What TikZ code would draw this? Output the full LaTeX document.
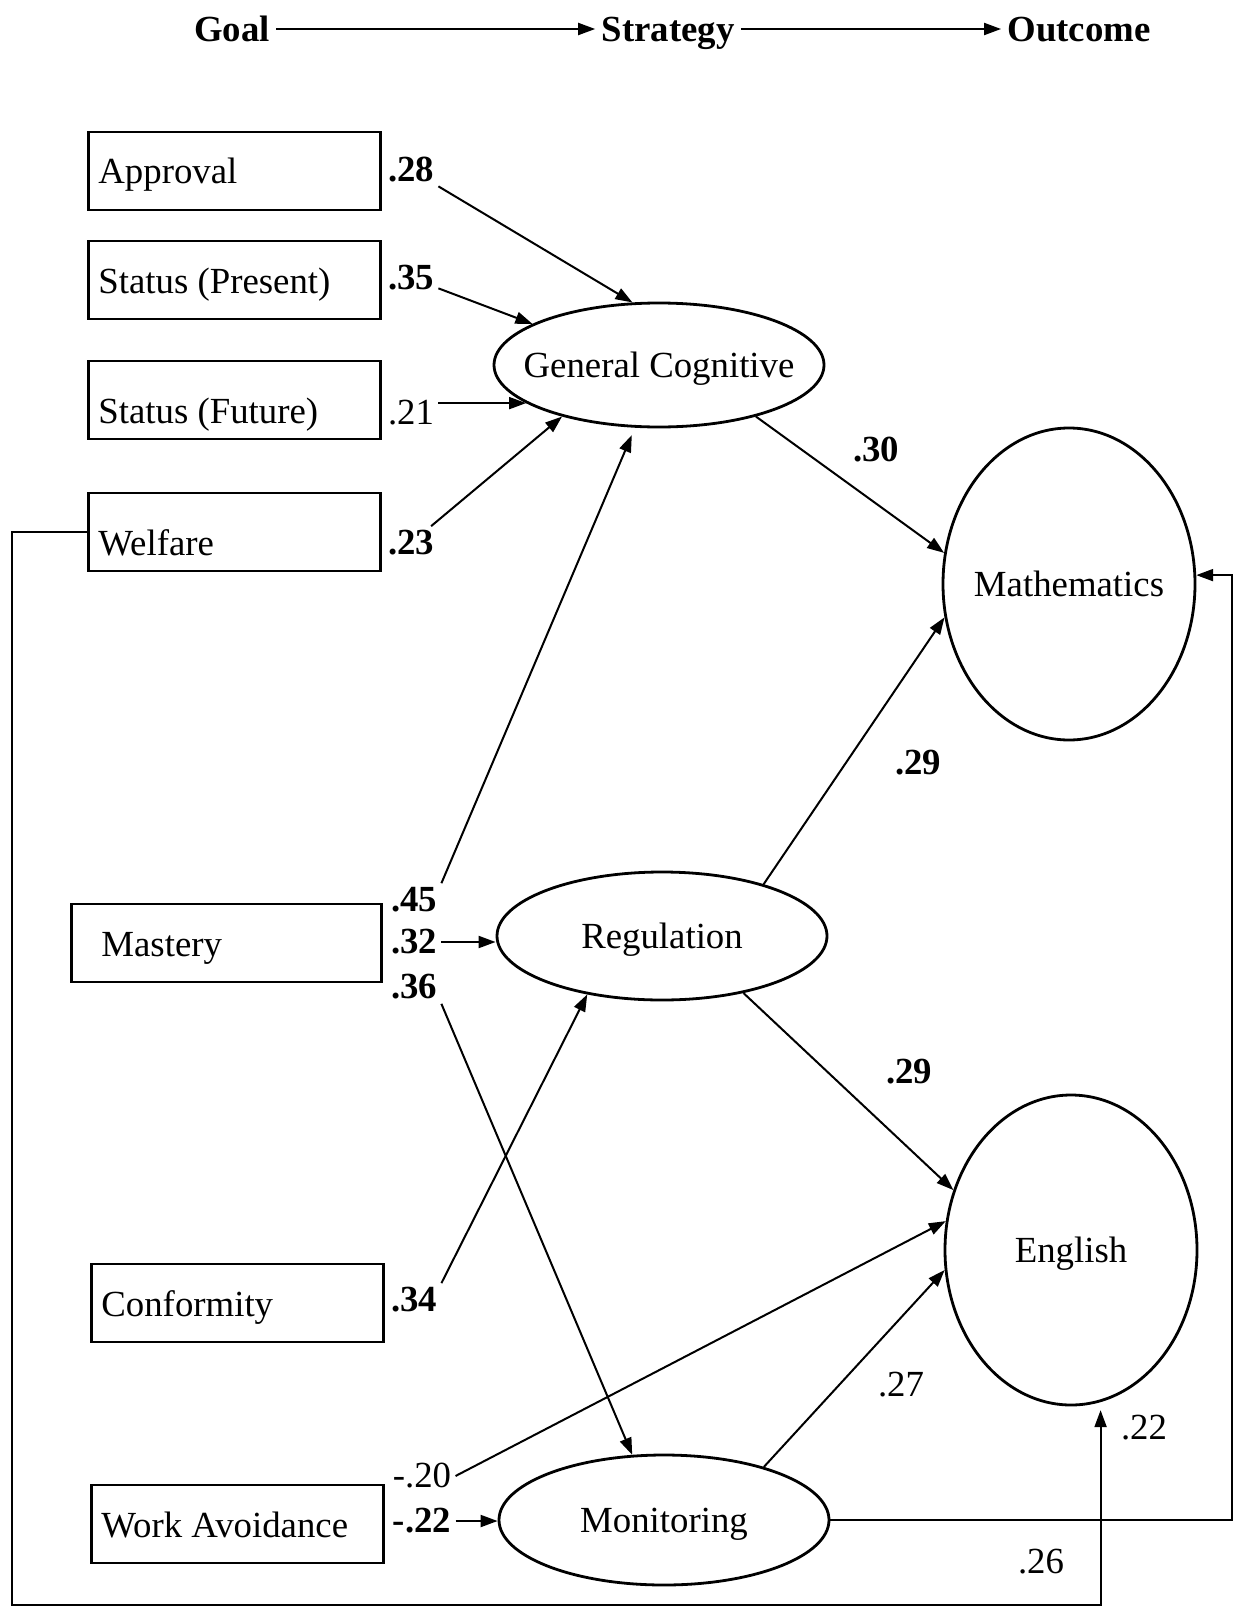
\documentclass[tikz,border=0pt]{standalone}
\usepackage{fontspec}
\setmainfont{Liberation Serif}
\usetikzlibrary{arrows.meta,
                positioning,
                shapes.geometric
                }

\begin{document}
\begin{tikzpicture}[x=0.5pt, y=-0.5pt,
       arr/.style = {line width=1pt, -{Triangle[length=8.5pt, width=6pt]}},
    every node/.style = {font=\fontsize{18.4}{22}\selectfont},
       hdr/.style = {font=\fontsize{18.4}{22}\selectfont\bfseries, inner sep=3pt,
                     text height=13pt, text depth=0pt},
       obs/.style = {rectangle, draw, line width=1.4pt, minimum height=39pt,
                     text width=#1, inner xsep=5pt, align=flush left, anchor=west,
                     text height=13pt, text depth=0pt},
     obs/.default = 136pt,
       low/.style = {text height=23pt},
       lat/.style = {ellipse, draw, line width=1.4pt, inner xsep=-25pt, inner ysep=0pt,
                     text depth=0pt},
      coef/.style = {inner sep=2pt},
     coefb/.style = {coef, font=\fontsize{18.4}{22}\selectfont\bfseries},
                    ]
    \useasboundingbox (0,0) rectangle (1234,1611);
    %% header
    \node[hdr] (goal)  at (232,29)  {Goal};
    \node[hdr] (strat) at (668,29)  {Strategy};
    \node[hdr] (outc)  at (1079,29) {Outcome};
    \draw[arr] (goal)  -- (strat);
    \draw[arr] (strat) -- (outc);
    %% goals
    \node[obs] (appr) at (87,171)  {Approval};
    \node[obs] (stp)  at (87,280)  {Status (Present)};
    \node[obs, low] (stf)  at (87,400)  {Status (Future)};
    \node[obs, low] (wel)  at (87,532)  {Welfare};
    \node[obs=125pt, inner xsep=15pt] (mast) at (70,943) {Mastery};
    \node[obs] (conf) at (90,1303) {Conformity};
    \node[obs] (wav)  at (90,1524) {Work Avoidance};
    %% strategies and outcomes
    \node[lat, minimum width=165pt, minimum height=62pt] (gc)   at (659,365)  {General Cognitive};
    \node[lat, minimum width=165pt, minimum height=64pt] (reg)  at (662,936)  {Regulation};
    \node[lat, minimum width=165pt, minimum height=65pt] (mon)  at (664,1520) {Monitoring};
    \node[lat, minimum width=126pt, minimum height=156pt] (math) at (1069,584) {Mathematics};
    \node[lat, minimum width=126pt, minimum height=155pt] (eng)  at (1071,1250) {English};
    %% coefficients
    \node[coefb] (c28)  at (411,170)  {.28};
    \node[coefb] (c35)  at (411,278)  {.35};
    \node[coef]  (c21)  at (411,413)  {.21};
    \node[coefb] (c23)  at (411,543)  {.23};
    \node[coefb] (c45)  at (414,900)  {.45};
    \node[coefb] (c32)  at (414,942)  {.32};
    \node[coefb] (c36)  at (414,987)  {.36};
    \node[coefb] (c34)  at (414,1300) {.34};
    \node[coef]  (cm20) at (422,1476) {-.20};
    \node[coefb] (cm22) at (422,1521) {-.22};
    \node[coefb] (c30)  at (876,450)  {.30};
    \node[coefb] (c29a) at (918,763)  {.29};
    \node[coefb] (c29b) at (909,1072) {.29};
    \node[coef]  (c27)  at (901,1385) {.27};
    \node[coef]  (c22)  at (1144,1428) {.22};
    \node[coef]  (c26)  at (1041,1562) {.26};
    \coordinate (rt) at (1232,1520);
    \coordinate (lb) at (12,1605);
    %% arrows (goals)
    \draw[arr]  (c28) -- (gc.113);
    \draw[arr]  (c35) -- (gc.162);
    \draw[arr]  (c21.east |- gc.196) -- (gc.196);
    \draw[arr]  (c23) -- (gc.208);
    \draw[arr, shorten >=4pt] (c45.north east) -- (gc.249);
    \draw[arr]  (c32.east) -- (c32.east -| reg.west);
    \draw[arr]  (c36.south east) -- (mon.116);
    \draw[arr]  (c34.north east) -- (reg.218);
    \draw[arr]  (cm20.east) -- (eng.167);
    \draw[arr]  (cm22.east) -- (cm22.east -| mon.west);
    %% arrows (strategies)
    \draw[arr]  (gc.-28) -- (math.166);
    \draw[arr]  (reg.27) -- (math.195);
    \draw[arr]  (reg.-35) -- (eng.153);
    \draw[arr]  (mon.28) -- (eng.189);
    %% long lines
    \draw[arr]  (mon.east) -- (rt) |- (math.4);
    \draw[arr, shorten >=4pt] (wel.west) -| (lb) -| (eng.-79);
\end{tikzpicture}
\end{document}
